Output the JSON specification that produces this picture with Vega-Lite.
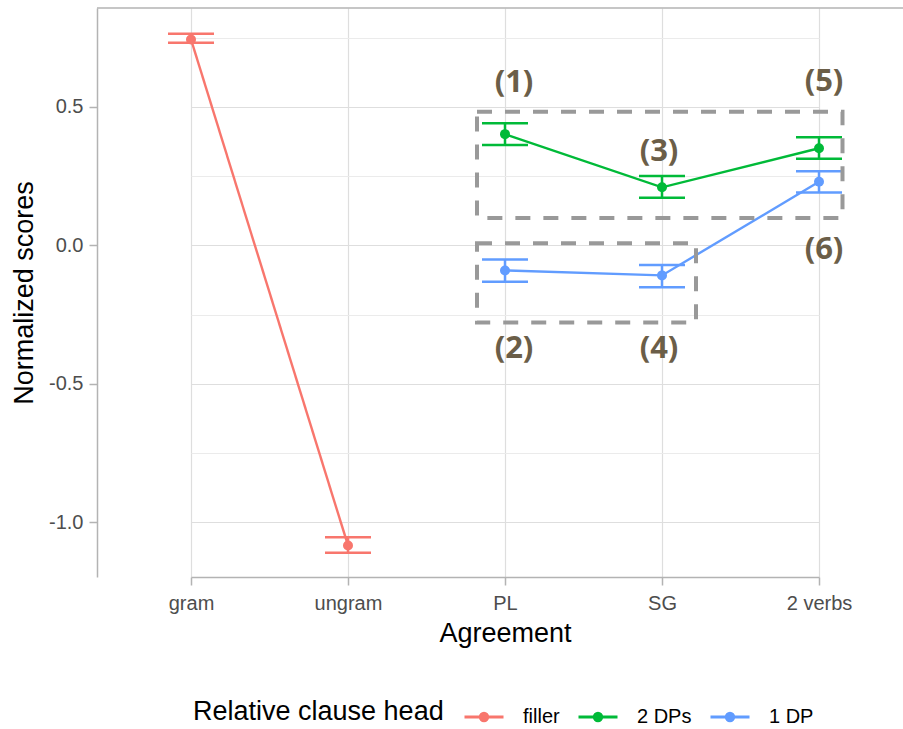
{
  "$schema": "https://vega.github.io/schema/vega-lite/v6.json",
  "width": 806,
  "height": 569,
  "autosize": {"type": "none"},
  "padding": {"left": 97, "top": 8, "right": 0, "bottom": 152},
  "background": "white",
  "config": {"view": {"stroke": null}, "font": "Liberation Sans"},
  "datasets": {
    "scores": [
      {"head": "filler", "agreement": "gram", "mean": 0.744, "lower": 0.732, "upper": 0.764},
      {"head": "filler", "agreement": "ungram", "mean": -1.083, "lower": -1.109, "upper": -1.053},
      {"head": "2 DPs", "agreement": "PL", "mean": 0.402, "lower": 0.363, "upper": 0.441},
      {"head": "2 DPs", "agreement": "SG", "mean": 0.21, "lower": 0.172, "upper": 0.251},
      {"head": "2 DPs", "agreement": "2 verbs", "mean": 0.351, "lower": 0.313, "upper": 0.391},
      {"head": "1 DP", "agreement": "PL", "mean": -0.09, "lower": -0.131, "upper": -0.051},
      {"head": "1 DP", "agreement": "SG", "mean": -0.108, "lower": -0.151, "upper": -0.07},
      {"head": "1 DP", "agreement": "2 verbs", "mean": 0.23, "lower": 0.191, "upper": 0.268}
    ],
    "boxes": [
      {"box": "2 DPs", "from": "PL", "to": "2 verbs", "top": 0.483, "bottom": 0.099},
      {"box": "1 DP", "from": "PL", "to": "SG", "top": 0.008, "bottom": -0.278}
    ],
    "labels": [
      {"label": "(1)", "agreement": "PL", "score": 0.586},
      {"label": "(2)", "agreement": "PL", "score": -0.375},
      {"label": "(3)", "agreement": "SG", "score": 0.336},
      {"label": "(4)", "agreement": "SG", "score": -0.375},
      {"label": "(5)", "agreement": "2 verbs", "score": 0.591},
      {"label": "(6)", "agreement": "2 verbs", "score": -0.018}
    ],
    "border": [{"edge": "top", "score": 0.8574}]
  },
  "encoding": {
    "x": {
      "field": "agreement",
      "type": "nominal",
      "scale": {"type": "point", "domain": ["gram", "ungram", "PL", "SG", "2 verbs"], "range": [94, 722], "padding": 0},
      "axis": {
        "title": "Agreement",
        "titleFontSize": 27,
        "titleFontWeight": "normal",
        "titleColor": "black",
        "titleX": 408,
        "titlePadding": 7,
        "labelFontSize": 20,
        "labelColor": "#4d4d4d",
        "labelPadding": 8,
        "labelAngle": 0,
        "tickSize": 8,
        "tickColor": "#b3b3b3",
        "tickWidth": 1.5,
        "domainColor": "#b3b3b3",
        "domainWidth": 1.5,
        "grid": true,
        "gridColor": "#dedede",
        "gridWidth": 1.2
      }
    }
  },
  "layer": [
    {
      "data": {"name": "border"},
      "mark": {"type": "rule", "color": "#b3b3b3", "strokeWidth": 1.5},
      "encoding": {
        "x": null,
        "y": {
          "field": "score",
          "type": "quantitative",
          "scale": {"domain": [-1.1968, 0.8574], "nice": false, "zero": false},
          "axis": {
            "values": [-1, -0.75, -0.5, -0.25, 0, 0.25, 0.5, 0.75],
            "title": "Normalized scores",
            "titleFontSize": 27,
            "titleFontWeight": "normal",
            "titleColor": "black",
            "titlePadding": 10,
            "labelFontSize": 20,
            "labelColor": "#4d4d4d",
            "labelPadding": 6,
            "labelExpr": "abs(datum.value*2 - round(datum.value*2)) > 0.01 ? '' : replace(format(datum.value, '.1f'), '\u2212', '-')",
            "tickSize": 8,
            "tickColor": "#b3b3b3",
            "tickWidth": 1.5,
            "tickOpacity": {"condition": {"test": "abs(datum.value*2 - round(datum.value*2)) > 0.01", "value": 0}, "value": 1},
            "domainColor": "#b3b3b3",
            "domainWidth": 1.5,
            "grid": true,
            "gridColor": {"condition": {"test": "abs(datum.value*2 - round(datum.value*2)) > 0.01", "value": "#ebebeb"}, "value": "#dedede"},
            "gridWidth": 1.2
          }
        }
      }
    },
    {
      "data": {"name": "scores"},
      "encoding": {
        "color": {
          "field": "head",
          "type": "nominal",
          "scale": {"domain": ["filler", "2 DPs", "1 DP"], "range": ["#F8766D", "#00BA38", "#619CFF"]},
          "legend": {
            "title": "Relative clause head",
            "orient": "none",
            "legendX": 96,
            "legendY": 688,
            "direction": "horizontal",
            "titleOrient": "left",
            "titleAnchor": "middle",
            "titleBaseline": "middle",
            "titleLimit": 500,
            "titleFontSize": 27,
            "titleFontWeight": "normal",
            "titleColor": "black",
            "titlePadding": 19,
            "labelFontSize": 20,
            "labelColor": "black",
            "labelOffset": 18,
            "columnPadding": 12,
            "symbolType": "M-1,0L1,0M-0.19,0A0.19,0.19,0,1,0,0.19,0A0.19,0.19,0,1,0,-0.19,0Z",
            "symbolSize": 1521,
            "symbolStrokeWidth": 3,
            "encode": {
              "symbols": {
                "update": {
                  "fill": {"scale": "color", "field": "value"},
                  "stroke": {"scale": "color", "field": "value"},
                  "opacity": {"value": 1}
                }
              }
            }
          }
        }
      },
      "layer": [
        {
          "mark": {"type": "rule", "strokeWidth": 2.5},
          "encoding": {
            "y": {"field": "lower", "type": "quantitative", "scale": {"domain": [-1.1968, 0.8574], "nice": false, "zero": false}},
            "y2": {"field": "upper"}
          }
        },
        {
          "mark": {"type": "tick", "orient": "horizontal", "size": 46, "thickness": 2.5, "opacity": 1},
          "encoding": {
            "y": {"field": "lower", "type": "quantitative", "scale": {"domain": [-1.1968, 0.8574], "nice": false, "zero": false}}
          }
        },
        {
          "mark": {"type": "tick", "orient": "horizontal", "size": 46, "thickness": 2.5, "opacity": 1},
          "encoding": {
            "y": {"field": "upper", "type": "quantitative", "scale": {"domain": [-1.1968, 0.8574], "nice": false, "zero": false}}
          }
        },
        {
          "mark": {"type": "line", "strokeWidth": 2.4},
          "encoding": {
            "y": {"field": "mean", "type": "quantitative", "scale": {"domain": [-1.1968, 0.8574], "nice": false, "zero": false}},
            "order": {"value": null}
          }
        },
        {
          "mark": {"type": "point", "filled": true, "size": 100, "opacity": 1},
          "encoding": {
            "y": {"field": "mean", "type": "quantitative", "scale": {"domain": [-1.1968, 0.8574], "nice": false, "zero": false}}
          }
        }
      ]
    },
    {
      "data": {"name": "boxes"},
      "transform": [{"filter": "datum.box === '2 DPs'"}],
      "mark": {"type": "rect", "fillOpacity": 0, "fill": "white", "stroke": "#999999", "strokeWidth": 4, "strokeDash": [15, 13], "xOffset": -28, "x2Offset": 23.5},
      "encoding": {
        "x": {"field": "from", "type": "nominal"},
        "x2": {"field": "to"},
        "y": {"field": "top", "type": "quantitative", "scale": {"domain": [-1.1968, 0.8574], "nice": false, "zero": false}},
        "y2": {"field": "bottom"}
      }
    },
    {
      "data": {"name": "boxes"},
      "transform": [{"filter": "datum.box === '1 DP'"}],
      "mark": {"type": "rect", "fillOpacity": 0, "fill": "white", "stroke": "#999999", "strokeWidth": 4, "strokeDash": [15, 13], "xOffset": -28, "x2Offset": 34},
      "encoding": {
        "x": {"field": "from", "type": "nominal"},
        "x2": {"field": "to"},
        "y": {"field": "top", "type": "quantitative", "scale": {"domain": [-1.1968, 0.8574], "nice": false, "zero": false}},
        "y2": {"field": "bottom"}
      }
    },
    {
      "data": {"name": "labels"},
      "transform": [{"filter": "datum.agreement === 'PL'"}],
      "mark": {"type": "text", "font": "Open Sans", "fontWeight": "bold", "fontSize": 31, "color": "#6b5e48", "align": "center", "baseline": "middle", "dx": 9},
      "encoding": {
        "y": {"field": "score", "type": "quantitative", "scale": {"domain": [-1.1968, 0.8574], "nice": false, "zero": false}},
        "text": {"field": "label", "type": "nominal"}
      }
    },
    {
      "data": {"name": "labels"},
      "transform": [{"filter": "datum.agreement === 'SG'"}],
      "mark": {"type": "text", "font": "Open Sans", "fontWeight": "bold", "fontSize": 31, "color": "#6b5e48", "align": "center", "baseline": "middle", "dx": -3},
      "encoding": {
        "y": {"field": "score", "type": "quantitative", "scale": {"domain": [-1.1968, 0.8574], "nice": false, "zero": false}},
        "text": {"field": "label", "type": "nominal"}
      }
    },
    {
      "data": {"name": "labels"},
      "transform": [{"filter": "datum.agreement === '2 verbs'"}],
      "mark": {"type": "text", "font": "Open Sans", "fontWeight": "bold", "fontSize": 31, "color": "#6b5e48", "align": "center", "baseline": "middle", "dx": 5},
      "encoding": {
        "y": {"field": "score", "type": "quantitative", "scale": {"domain": [-1.1968, 0.8574], "nice": false, "zero": false}},
        "text": {"field": "label", "type": "nominal"}
      }
    }
  ]
}
